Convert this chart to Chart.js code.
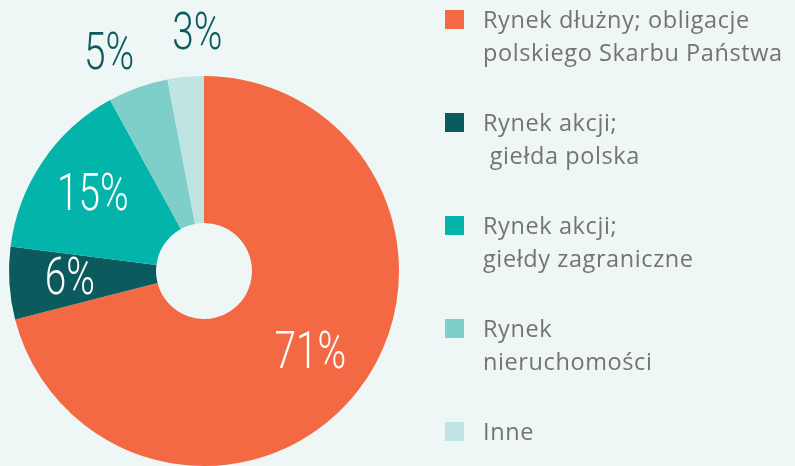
<!DOCTYPE html>
<html>
<head>
<meta charset="utf-8">
<script src="https://cdn.jsdelivr.net/npm/chart.js@4"></script>
<style>
    body { margin: 0; background: #eef7f6; }
    #wrap { position: relative; width: 795px; height: 466px; overflow: hidden; }
    #chart { position: absolute; left: 0; top: 0; }
    #legend { position: absolute; left: 445px; top: 0; font-family: "Open Sans", "Noto Sans", sans-serif; font-size: 23.5px; letter-spacing: 0.6px; color: #737373; }
    .item { position: absolute; left: 0; white-space: pre; }
    .box { position: absolute; left: 0; top: 10px; width: 19px; height: 19px; }
    .txt { position: absolute; left: 38px; top: 3px; line-height: 33px; }
</style>
</head>
<body>
<div id="wrap">
    <canvas id="chart" width="795" height="466"></canvas>
    <div id="legend"></div>
</div>
<script>
var categories = [
    ["Rynek dłużny; obligacje", "polskiego Skarbu Państwa"],
    ["Rynek akcji;", " giełda polska"],
    ["Rynek akcji;", "giełdy zagraniczne"],
    ["Rynek", "nieruchomości"],
    ["Inne"]
];
var shares = [71, 6, 15, 5, 3];
var colors = ["#f26943", "#0b5a5d", "#02b4aa", "#7ecfca", "#c0e4e2"];

// legend on the right, built from the same arrays
var legend = document.getElementById("legend");
categories.forEach(function (lines, i) {
    var item = document.createElement("div");
    item.className = "item";
    item.style.top = (i * 103) + "px";
    item.innerHTML = '<div class="box" style="background:' + colors[i] + '"></div>' +
        '<div class="txt">' + lines.join("\n") + '</div>';
    legend.appendChild(item);
});

var pctLabels = {
    id: "pctLabels",
    afterDatasetsDraw: function (chart) {
        var ctx = chart.ctx;
        var meta = chart.getDatasetMeta(0);
        var angles = meta.data.map(function (arc) { return (arc.startAngle + arc.endAngle) / 2; });
        // small slices get their label outside; push neighbouring outside labels apart
        var minGap = 22 * Math.PI / 180;
        for (var i = 1; i < angles.length; i++) {
            if (shares[i] < 6 && shares[i - 1] < 6) {
                var gap = angles[i] - angles[i - 1];
                if (gap < minGap) {
                    angles[i - 1] -= (minGap - gap) / 2;
                    angles[i] += (minGap - gap) / 2;
                }
            }
        }
        meta.data.forEach(function (arc, i) {
            var outside = shares[i] < 6;
            var r = outside ? arc.outerRadius + 42 : arc.outerRadius * 0.69;
            var x = arc.x + Math.cos(angles[i]) * r;
            var y = arc.y + Math.sin(angles[i]) * r;
            ctx.save();
            ctx.translate(x, y);
            ctx.scale(0.76, 1);
            ctx.font = "300 51px Roboto, sans-serif";
            ctx.textAlign = "center";
            ctx.textBaseline = "middle";
            ctx.fillStyle = outside ? "#0d5a5d" : "#ffffff";
            ctx.fillText(shares[i] + "%", 0, 2);
            ctx.restore();
        });
    }
};

var chart = new Chart(document.getElementById("chart"), {
    type: "doughnut",
    data: {
        labels: categories.map(function (l) { return l.join(" "); }),
        datasets: [{
            data: shares,
            backgroundColor: colors,
            borderWidth: 0
        }]
    },
    options: {
        responsive: false,
        animation: false,
        cutout: "24.6%",
        layout: { padding: { left: 9, top: 76, right: 396, bottom: 0 } },
        plugins: {
            legend: { display: false },
            tooltip: { enabled: false }
        }
    },
    plugins: [pctLabels]
});
</script>
</body>
</html>
